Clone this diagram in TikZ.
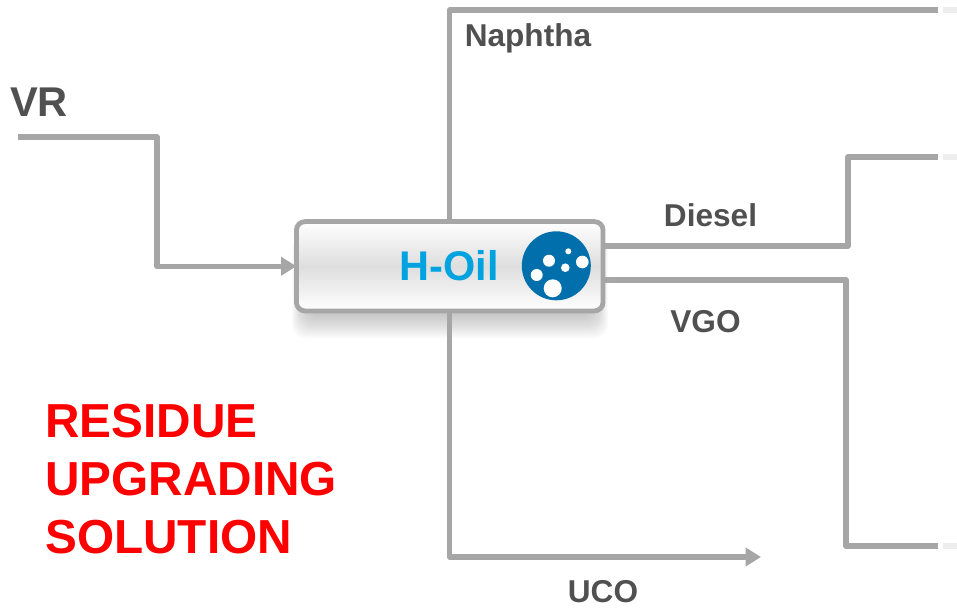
\documentclass[tikz,border=0pt]{standalone}
\usepackage{fontspec}
\setmainfont{Liberation Sans}
\usetikzlibrary{arrows.meta}
\definecolor{pipegray}{HTML}{A6A6A6}
\definecolor{stubgray}{HTML}{EDEDED}
\definecolor{labelgray}{HTML}{505050}
\definecolor{oilblue}{HTML}{00A3E0}
\definecolor{dropblue}{HTML}{006FAC}
\tikzset{
  pipe/.style={draw=pipegray,line width=4pt,line join=round},
  pipearrow/.style={pipe,-{Triangle[length=11.5pt,width=13.5pt]}},
  stub/.style={draw=stubgray,line width=4pt},
  smalllabel/.style={text=labelgray,inner sep=0pt,font=\bfseries\fontsize{23.7}{26}\selectfont},
  reactor/.style={draw=pipegray,line width=3.6pt,rounded corners=6.5pt,outer sep=0pt,
    minimum width=230pt,minimum height=67pt,
    top color=white,bottom color=white,middle color=black!13},
}
\begin{document}
\begin{tikzpicture}[x=0.75pt,y=-0.75pt]
  \useasboundingbox (0,0) rectangle (957,608);
  % soft shadow under the unit
  \foreach \i in {0,...,11}
    \fill[black,opacity=0.02,rounded corners=10pt]
      (292+\i*1.2,236+\i*0.6) rectangle (608-\i*1.2,338-\i*2);
  \node[reactor] (hoil) at (449.75,266.25) {};
  \node[inner sep=0pt,text=oilblue,font=\bfseries\fontsize{31.1}{34}\selectfont] (hoillabel) at (449.5,266) {H-Oil};
  % bubbles
  \fill[dropblue] (556.3,265.8) circle (34.5);
  \foreach \bx/\by/\br in {549/260.7/6,568.3/251.3/3,565.3/267.7/4.3,582.3/262/6.3,536.7/275/6,552.7/288.3/9}
    \fill[white] (\bx,\by) circle (\br);
  % streams
  \coordinate (vrstart) at (18,137);
  \coordinate (vrtop) at (157,137);
  \coordinate (vrbottom) at (157,266.25);
  \coordinate (naphthatop) at (449.75,10);
  \coordinate (naphthaend) at (938,10);
  \coordinate (dieselknee) at (848,246);
  \coordinate (dieselup) at (848,157);
  \coordinate (dieselend) at (938,157);
  \coordinate (vgoknee) at (846,280);
  \coordinate (vgodown) at (846,546);
  \coordinate (vgoend) at (938,546);
  \coordinate (ucobottom) at (449.75,557);
  \coordinate (ucoend) at (761,557);
  \draw[pipearrow] (vrstart) -- (vrtop) -- (vrbottom) -- (hoil.west);
  \draw[pipe] (hoil.north) -- (naphthatop) -- (naphthaend);
  \draw[pipe] (hoil.east |- dieselknee) -- (dieselknee) -- (dieselup) -- (dieselend);
  \draw[pipe] (hoil.east |- vgoknee) -- (vgoknee) -- (vgodown) -- (vgoend);
  \draw[pipearrow] (hoil.south) -- (ucobottom) -- (ucoend);
  % stubs at the page edge
  \coordinate (naphthastub) at (943,10);
  \coordinate (dieselstub) at (943,157);
  \coordinate (vgostub) at (943,546);
  \draw[stub] (naphthastub) -- (957,10);
  \draw[stub] (dieselstub) -- (957,157);
  \draw[stub] (vgostub) -- (957,546);
  % labels
  \node[inner sep=0pt,text=labelgray,font=\bfseries\fontsize{31.2}{34}\selectfont] (vr) at (39,102) {VR};
  \node[smalllabel] (naphtha) at (528,38) {Naphtha};
  \node[smalllabel] (diesel) at (710.5,215) {Diesel};
  \node[smalllabel] (vgo) at (705.5,322) {VGO};
  \node[smalllabel] (uco) at (603,592) {UCO};
  \node[inner sep=0pt,anchor=west,align=left,text=red,font=\bfseries\fontsize{35.8}{43.5}\selectfont] (solution) at (45,479.5)
    {RESIDUE\\UPGRADING\\SOLUTION};
\end{tikzpicture}
\end{document}
